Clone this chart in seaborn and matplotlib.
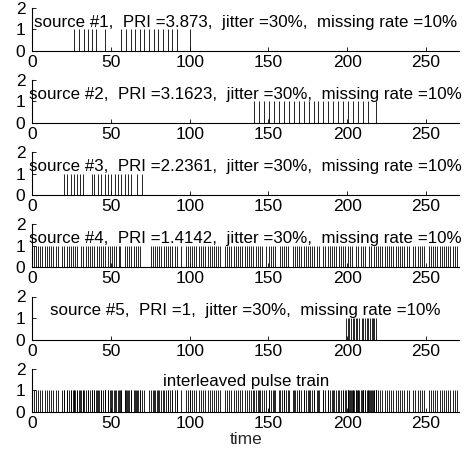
import numpy as np
import pandas as pd
import matplotlib
matplotlib.use("Agg")
import matplotlib.pyplot as plt
import seaborn as sns

# Pulse arrival times (time units) for each emitter
src1 = [26.5, 29.6, 32.6, 35.2, 37.8, 40.6, 46.0, 56.4, 59.4, 62.4, 65.3,
        68.2, 71.1, 74.0, 77.1, 80.0, 82.9, 85.9, 88.9, 92.0, 100.0]
src2 = [141.0, 144.1, 147.4, 150.2, 153.2, 156.5, 159.8, 162.9, 166.0,
        169.1, 172.4, 175.5, 178.6, 181.6, 184.9, 188.0, 191.1, 194.4,
        197.5, 200.6, 203.6, 207.0, 210.1, 213.2, 218.6]
src3 = [20.4, 22.3, 24.5, 26.5, 28.3, 30.2, 32.3, 37.6, 39.5, 41.6, 43.8,
        46.0, 48.0, 50.3, 52.5, 54.4, 56.5, 58.7, 61.0, 63.0, 66.6, 69.4]
src4 = [0.9, 2.3, 3.6, 5.1, 6.4, 7.9, 9.3, 10.6, 12.1, 13.4, 14.9, 16.2,
        19.0, 20.4, 21.8, 23.2, 24.5, 26.0, 27.3, 28.4, 31.1, 32.4, 33.9,
        35.2, 36.7, 38.0, 39.5, 40.8, 42.3, 43.6, 45.1, 46.4, 47.9, 49.2,
        50.6, 52.0, 53.4, 54.8, 56.0, 58.8, 60.1, 61.6, 62.9, 64.4, 65.7,
        67.2, 68.4, 75.1, 76.4, 77.9, 79.2, 80.7, 82.0, 83.4, 84.8, 86.2,
        87.6, 89.0, 90.4, 91.7, 94.5, 97.3, 98.7, 100.1, 101.5, 102.9,
        104.2, 105.7, 107.0, 108.5, 109.8, 111.3, 112.6, 114.1, 115.4,
        116.9, 118.2, 119.5, 122.3, 123.7, 125.0, 126.5, 127.8, 129.3,
        130.6, 132.1, 133.4, 134.9, 136.2, 137.7, 139.0, 140.4, 141.8,
        143.2, 144.6, 145.9, 148.7, 150.1, 151.5, 152.9, 154.2, 157.0,
        158.4, 159.8, 161.2, 162.5, 165.3, 166.7, 168.1, 169.5, 170.8,
        172.3, 173.6, 175.1, 176.4, 177.9, 179.2, 180.7, 182.0, 184.8,
        186.2, 187.6, 189.0, 190.3, 191.8, 193.1, 194.6, 195.9, 197.4,
        198.7, 200.2, 201.5, 203.0, 205.7, 207.1, 208.5, 209.9, 211.2,
        214.0, 215.4, 216.8, 218.2, 219.5, 221.0, 222.3, 223.8, 225.1,
        226.6, 227.9, 229.4, 230.7, 232.2, 233.5, 235.0, 236.3, 237.8,
        239.1, 241.9, 243.3, 244.7, 246.1, 247.4, 248.9, 251.7, 253.1,
        254.5, 255.9, 257.2, 258.7, 260.0, 261.5, 262.8, 264.3, 265.6,
        267.1, 268.4, 269.8, 271.2]
src5 = [199.5, 200.6, 201.4, 202.3, 203.5, 204.4, 205.3, 206.2, 207.3,
        209.4, 210.3, 211.2, 212.5, 213.4, 214.3, 215.6, 216.4, 217.3, 218.5]

sources = [src1, src2, src3, src4, src5]
pri_labels = ["3.873", "3.1623", "2.2361", "1.4142", "1"]
jitter_pct = 30
missing_pct = 10

titles = [f"source #{i + 1},  PRI ={p},  jitter ={jitter_pct}%,  missing rate ={missing_pct}%"
          for i, p in enumerate(pri_labels)]
titles.append("interleaved pulse train")

# Long-form table: one row per pulse, tagged with its panel
frames = [pd.DataFrame({"time": s, "panel": i}) for i, s in enumerate(sources)]
frames.append(pd.DataFrame({"time": np.concatenate(sources), "panel": 5}))
pulses = pd.concat(frames, ignore_index=True)

sns.set_style("ticks")
plt.rcParams["font.family"] = ["Liberation Sans", "DejaVu Sans"]
plt.rcParams["xtick.direction"] = "in"
plt.rcParams["ytick.direction"] = "in"

W, H = 473, 454
fig = plt.figure(figsize=(W / 100, H / 100), dpi=100)

left_px, right_px = 32.3, 459.0
first_base_px, step_px, height_px = 50.7, 72.2, 43.0
xmax = 271

for i in range(6):
    base = first_base_px + step_px * i
    ax = fig.add_axes([left_px / W, 1 - base / H,
                       (right_px - left_px) / W, height_px / H])
    sub = pulses[pulses["panel"] == i]
    # Each pulse is a unit-height line: rug height 0.5 of a 0..2 axis
    sns.rugplot(data=sub, x="time", height=0.5, color="black",
                linewidth=0.6, alpha=1.0, expand_margins=False, ax=ax)
    ax.set_xlim(0, xmax)
    ax.set_ylim(0, 2)
    ax.set_xticks([0, 50, 100, 150, 200, 250])
    ax.set_yticks([0, 1, 2])
    ax.tick_params(axis="both", length=3, width=0.6, labelsize=12.5,
                   colors="black")
    ax.tick_params(axis="x", pad=3)
    ax.tick_params(axis="y", pad=5)
    for side in ("top", "right"):
        ax.spines[side].set_visible(False)
    for side in ("left", "bottom"):
        ax.spines[side].set_linewidth(0.8)
        ax.spines[side].set_color("black")
    ax.set_ylabel("")
    ax.set_xlabel("time" if i == 5 else "", fontsize=12.5, labelpad=1)
    ax.text(xmax / 2, 1.12 if i < 5 else 1.2, titles[i], ha="center",
            va="baseline", fontsize=12.2, color="black")

fig.savefig("out.png", dpi=100)
